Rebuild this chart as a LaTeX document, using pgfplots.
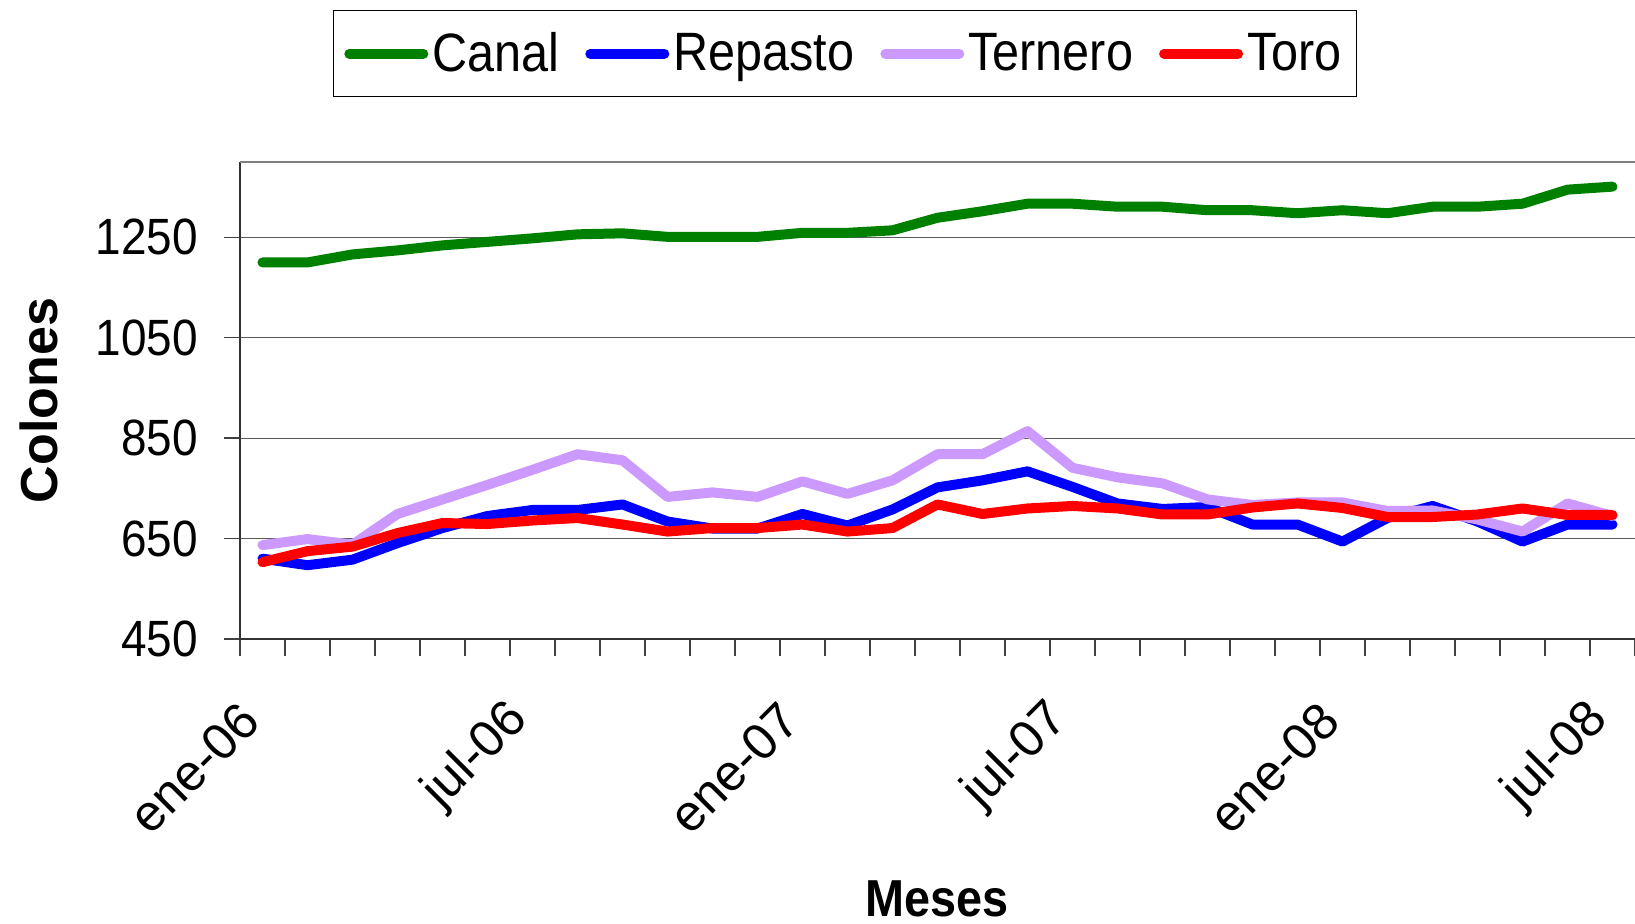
\documentclass[border=0pt]{standalone}
\usepackage{fontspec}
\setmainfont{Liberation Sans}[FakeStretch=0.9]
\newfontfamily\plainfont{Liberation Sans}
\usepackage{pgfplots}
\pgfplotsset{compat=1.18}

\definecolor{canal}{RGB}{0,128,0}
\definecolor{repasto}{RGB}{0,0,255}
\definecolor{ternero}{RGB}{204,153,255}
\definecolor{toro}{RGB}{255,0,0}

\begin{document}
\begin{tikzpicture}
\begin{axis}[
  name=ax,
  scale only axis,
  width=697.5pt, height=238.5pt,
  xmin=-0.5, xmax=30.5,
  ymin=450, ymax=1400,
  ytick={450,650,850,1050,1250},
  xtick={0,6,12,18,24,30},
  xticklabels={ene-06,jul-06,ene-07,jul-07,ene-08,jul-08},
  minor xtick={-0.5,0.5,...,30.5},
  /pgf/number format/assume math mode=true,
  /pgf/number format/1000 sep={},
  axis line style={draw=none},
  ymajorgrids,
  grid style={black!65, line width=0.6pt},
  tick align=outside,
  tick pos=left,
  major tick length=8pt,
  minor tick length=8.5pt,
  tick style={black!75, line width=0.7pt},
  major x tick style={draw=none},
  yticklabel style={font=\fontsize{25.5}{30}\selectfont, inner sep=0pt, xshift=-12.8pt},
  xticklabel style={font=\plainfont\fontsize{25.5}{30}\selectfont, inner sep=0pt, xshift=-6pt, yshift=-28.5pt, rotate=45, anchor=east},
  xlabel={Meses},
  ylabel={Colones},
  xlabel style={at={(axis description cs:0.5,-0.545)}, anchor=center, font=\bfseries\fontsize{26}{31}\selectfont},
  ylabel style={at={(axis description cs:-0.1441,0.5)}, anchor=center, font=\plainfont\bfseries\fontsize{26}{31}\selectfont},
  legend columns=4,
  legend cell align=left,
  legend style={at={(0.4337,1.3187)}, anchor=north, draw=black, line width=0.6pt,
    font=\fontsize{27}{32}\selectfont,
    /tikz/every even column/.append style={column sep=11pt},
    inner xsep=5.5pt, inner ysep=9pt},
  legend image code/.code={\draw[#1, line width=5pt, line cap=round] (0pt,0pt) -- (37pt,0pt);},
]
\addplot[color=canal, line width=5pt, line cap=round, line join=round] coordinates {
(0,1200) (1,1200) (2,1216) (3,1224) (4,1234) (5,1241) (6,1248) (7,1256) (8,1258) (9,1251)
(10,1251) (11,1251) (12,1259) (13,1259) (14,1264) (15,1289) (16,1302) (17,1317) (18,1317) (19,1311)
(20,1311) (21,1304) (22,1304) (23,1298) (24,1304) (25,1298) (26,1311) (27,1311) (28,1317) (29,1345) (30,1351)};
\addlegendentry{Canal}
\addplot[color=repasto, line width=5pt, line cap=round, line join=round] coordinates {
(0,610) (1,597) (2,608) (3,641) (4,671) (5,695) (6,707) (7,707) (8,718) (9,684)
(10,670) (11,670) (12,699) (13,676) (14,708) (15,752) (16,766) (17,784) (18,753) (19,720)
(20,709) (21,713) (22,678) (23,678) (24,644) (25,691) (26,715) (27,684) (28,644) (29,678) (30,678)};
\addlegendentry{Repasto}
\addplot[color=ternero, line width=5pt, line cap=round, line join=round] coordinates {
(0,637) (1,649) (2,638) (3,699) (4,728) (5,757) (6,787) (7,818) (8,806) (9,733)
(10,742) (11,733) (12,764) (13,739) (14,766) (15,818) (16,818) (17,864) (18,791) (19,772)
(20,760) (21,728) (22,717) (23,722) (24,722) (25,705) (26,706) (27,688) (28,664) (29,720) (30,695)};
\addlegendentry{Ternero}
\addplot[color=toro, line width=5pt, line cap=round, line join=round] coordinates {
(0,603) (1,625) (2,634) (3,661) (4,681) (5,679) (6,686) (7,691) (8,678) (9,664)
(10,671) (11,671) (12,678) (13,664) (14,671) (15,718) (16,699) (17,710) (18,715) (19,710)
(20,698) (21,698) (22,712) (23,720) (24,711) (25,693) (26,693) (27,698) (28,710) (29,697) (30,697)};
\addlegendentry{Toro}
\end{axis}
\draw[black!80, line width=0.7pt] (ax.north west) -- (ax.south west) -- (ax.south east);
\draw[gray, line width=1.2pt] (ax.north west) -- (ax.north east);
\pgfresetboundingbox
\path[use as bounding box] (ax.south west) ++(-120pt,-142pt) rectangle ++(817.5pt,461.5pt);
\end{tikzpicture}
\end{document}
